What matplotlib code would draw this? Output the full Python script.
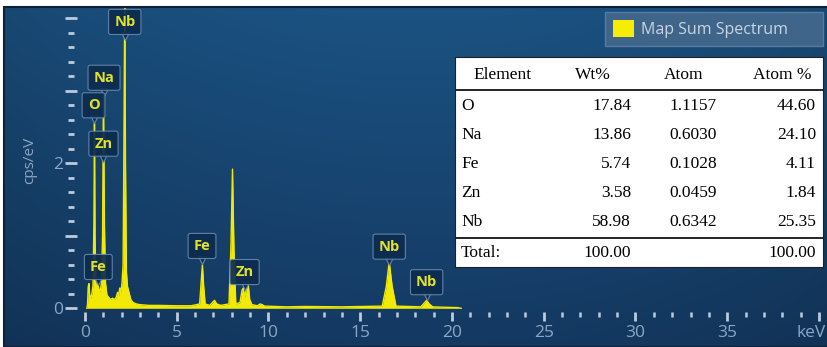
import matplotlib
matplotlib.use('Agg')
import matplotlib.pyplot as plt
import matplotlib.transforms as mtransforms
from matplotlib.patches import Patch, Rectangle
import numpy as np

# spectrum trace: energy (keV) and intensity (cps/eV)
energy = [0.10, 0.14, 0.18, 0.22, 0.26, 0.32, 0.38, 0.44, 0.49, 0.52, 0.55,
          0.60, 0.66, 0.70, 0.74, 0.82, 0.90, 0.96, 1.01, 1.06, 1.12, 1.20,
          1.30, 1.40, 1.50, 1.60, 1.70, 1.78, 1.84, 1.90, 1.96, 2.02, 2.08,
          2.13, 2.17, 2.21, 2.26, 2.32, 2.40, 2.50, 2.62, 2.80, 3.00, 3.50,
          4.00, 5.00, 5.80, 6.25, 6.33, 6.40, 6.47, 6.55, 6.80, 6.95, 7.06,
          7.18, 7.40, 7.85, 7.96, 8.04, 8.12, 8.22, 8.45, 8.56, 8.63, 8.70,
          8.83, 8.90, 8.98, 9.10, 9.40, 9.55, 9.65, 9.80, 11.0, 12.0, 14.0,
          16.2, 16.42, 16.58, 16.74, 16.95, 18.3, 18.48, 18.62, 18.76, 18.95,
          19.5, 20.3, 20.5]
cps = [0.00, 0.05, 0.30, 0.34, 0.18, 0.14, 0.20, 0.32, 1.20, 2.55, 1.00,
       0.30, 0.30, 0.36, 0.28, 0.22, 0.35, 1.00, 3.00, 1.20, 0.35, 0.18,
       0.15, 0.12, 0.14, 0.12, 0.15, 0.22, 0.18, 0.28, 0.22, 0.35, 0.60,
       2.50, 4.30, 2.00, 0.50, 0.30, 0.22, 0.12, 0.08, 0.06, 0.05, 0.04,
       0.04, 0.035, 0.035, 0.06, 0.35, 0.60, 0.30, 0.06, 0.04, 0.08, 0.11,
       0.06, 0.04, 0.06, 0.90, 1.92, 0.80, 0.06, 0.08, 0.25, 0.28, 0.15,
       0.30, 0.32, 0.12, 0.05, 0.035, 0.06, 0.05, 0.03, 0.02, 0.025, 0.02,
       0.03, 0.30, 0.64, 0.30, 0.03, 0.02, 0.07, 0.11, 0.06, 0.02,
       0.015, 0.01, 0.0]

# element markers: name, line energy (keV), label height (cps/eV)
peak_names = ['Nb', 'Na', 'O', 'Zn', 'Fe', 'Fe', 'Zn', 'Nb', 'Nb']
peak_energy = [2.17, 1.04, 0.47, 1.01, 0.73, 6.38, 8.70, 16.58, 18.62]
label_level = [3.95, 3.18, 2.80, 2.27, 0.57, 0.86, 0.50, 0.85, 0.36]

# quantification results
elements = ['O', 'Na', 'Fe', 'Zn', 'Nb']
wt_pct = [17.84, 13.86, 5.74, 3.58, 58.98]
atom = [1.1157, 0.6030, 0.1028, 0.0459, 0.6342]
atom_pct = [44.60, 24.10, 4.11, 1.84, 25.35]
wt_total = 100.00
atom_pct_total = 100.00

x_ticks = [0, 5, 10, 15, 20, 25, 30, 35, 40]
x_labels = ['0', '5', '10', '15', '20', '25', '30', '35', 'keV']
y_ticks = [0, 1, 2, 3, 4]
y_labels = ['0', '', '2', '', '']

yellow = '#f2ea05'
tick_col = '#bccbdc'
text_col = '#8ba7c5'
plt.rcParams['font.family'] = ['Open Sans', 'DejaVu Sans']

fig = plt.figure(figsize=(8.28, 3.47), dpi=100, facecolor='white')
ax = fig.add_axes([4 / 828, 0, 824 / 828, 340 / 347])

xlim = (-4.41, 40.49)
ylim = (-0.534, 4.156)

# panel background, lighter toward the top middle
ny, nx = 200, 400
t = np.linspace(0, 1, ny)[:, None]
s = np.linspace(-1, 1, nx)[None, :]
top = np.array([27, 82, 130]) / 255
bot = np.array([20, 57, 98]) / 255
grad = top[None, None, :] * (1 - t[..., None]) + bot[None, None, :] * t[..., None]
edge = 1 - 0.12 * (s[..., None] ** 2)
grad = np.clip(grad * edge, 0, 1)
ax.imshow(grad, extent=[xlim[0], xlim[1], ylim[0], ylim[1]], aspect='auto',
          zorder=0, interpolation='bicubic')

ax.fill_between(energy, cps, 0, color=yellow, lw=0, zorder=2)
ax.plot(energy, cps, color=yellow, lw=1.0, zorder=2)

# peak labels with a small pointer under each box
box_fc = '#0d2c4e'
box_ec = '#6687ab'
ptr = mtransforms.offset_copy(ax.transData, fig=fig, y=-14, units='dots')
for name, e, lv in zip(peak_names, peak_energy, label_level):
    ax.plot([e], [lv], marker='v', ms=6, mfc=box_fc, mec=box_ec, mew=0.8,
            transform=ptr, zorder=4)
    ax.text(e, lv, name, ha='center', va='center', fontsize=10.5,
            fontweight='bold', color='#e3e12a', zorder=5,
            bbox=dict(boxstyle='round,pad=0.38,rounding_size=0.15',
                      fc=box_fc, ec=box_ec, lw=0.8, alpha=0.92))

ax.set_xlim(*xlim)
ax.set_ylim(*ylim)

for side in ['top', 'right']:
    ax.spines[side].set_visible(False)
ax.spines['bottom'].set_position(('data', -0.05))
ax.spines['left'].set_position(('data', -0.76))
ax.spines['bottom'].set_color('none')
ax.spines['left'].set_color('none')

ax.set_xticks(x_ticks)
ax.set_xticklabels(x_labels)
ax.set_xticks(np.arange(0, 41, 1), minor=True)
ax.set_yticks(y_ticks)
ax.set_yticklabels(y_labels)
ax.set_yticks(np.arange(0, 4.01, 0.2), minor=True)

ax.tick_params(axis='x', which='major', direction='out', length=6.5, width=2,
               color=tick_col, labelcolor=text_col, labelsize=12.5, pad=3)
ax.tick_params(axis='x', which='minor', direction='out', length=3.6, width=1.8,
               color=tick_col)
ax.tick_params(axis='y', which='major', direction='inout', length=8, width=2,
               color=tick_col, labelcolor=text_col, labelsize=12.5, pad=2)
ax.tick_params(axis='y', which='minor', direction='inout', length=4.3, width=2,
               color=tick_col)
# pull the unit label back inside the panel edge
kev = ax.get_xticklabels()[-1]
kev.set_transform(kev.get_transform() +
                  mtransforms.ScaledTranslation(-0.08, 0, fig.dpi_scale_trans))

ax.set_ylabel('cps/eV', color=text_col, fontsize=11)
ax.yaxis.set_label_coords(0.04, 0.55)

ax.add_patch(Rectangle((0, 0), 1, 1, transform=ax.transAxes, fill=False,
                       ec='#0d2138', lw=1.5, zorder=6, clip_on=False))

fig.legend(handles=[Patch(facecolor='#f5ee00', edgecolor='none')],
           labels=['Map Sum Spectrum'], loc='upper left',
           bbox_to_anchor=(605 / 828, 1 - 48 / 347, 218 / 828, 36 / 347),
           mode='expand', fontsize=11.5, labelcolor='#c9d5e2',
           facecolor='#3f658a', edgecolor='#587c9f', framealpha=1,
           fancybox=False, handlelength=1.3, handleheight=1.3,
           handletextpad=0.45, borderaxespad=0, borderpad=0.5)

# quantification table in pixel-like units
tab = fig.add_axes([455 / 828, 1 - 267 / 347, 368 / 828, 210 / 347])
tab.set_xlim(0, 368)
tab.set_ylim(210, 0)
tab.set_facecolor('white')
tab.set_xticks([])
tab.set_yticks([])
for sp in tab.spines.values():
    sp.set_color('#222222')
    sp.set_linewidth(0.8)

serif = dict(family='Liberation Serif', fontsize=12.5, color='black', va='center')
tab.text(48, 18, 'Element', ha='center', **serif)
tab.text(138, 18, 'Wt%', ha='center', **serif)
tab.text(229, 18, 'Atom', ha='center', **serif)
tab.text(327, 18, 'Atom %', ha='center', **serif)
tab.axhline(33, color='black', lw=1.2)
for i, el in enumerate(elements):
    y = 49 + 29 * i
    tab.text(6, y, el, ha='left', **serif)
    tab.text(176, y, f'{wt_pct[i]:.2f}', ha='right', **serif)
    tab.text(262, y, f'{atom[i]:.4f}', ha='right', **serif)
    tab.text(361, y, f'{atom_pct[i]:.2f}', ha='right', **serif)
tab.axhline(181, color='black', lw=1.2)
tab.text(6, 196, 'Total:', ha='left', **serif)
tab.text(176, 196, f'{wt_total:.2f}', ha='right', **serif)
tab.text(361, 196, f'{atom_pct_total:.2f}', ha='right', **serif)

fig.savefig('out.png', dpi=100, facecolor='white')
